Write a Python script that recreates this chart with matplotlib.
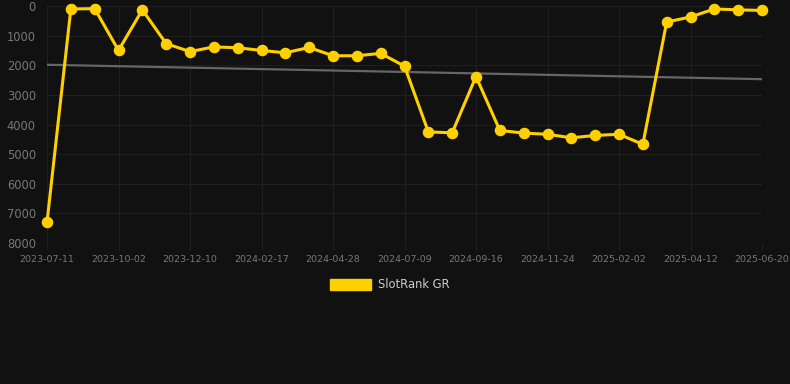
import matplotlib
matplotlib.use("Agg")
import matplotlib.pyplot as plt
import numpy as np
from matplotlib.patches import Patch

dates = ["2023-07-11", "2023-08-08", "2023-09-04", "2023-10-02", "2023-10-25", "2023-11-17",
         "2023-12-10", "2024-01-02", "2024-01-25", "2024-02-17", "2024-03-11", "2024-04-04",
         "2024-04-28", "2024-05-22", "2024-06-15", "2024-07-09", "2024-08-01", "2024-08-24",
         "2024-09-16", "2024-10-09", "2024-11-01", "2024-11-24", "2024-12-17", "2025-01-09",
         "2025-02-02", "2025-02-25", "2025-03-20", "2025-04-12", "2025-05-05", "2025-05-28",
         "2025-06-20"]
rank = [7300, 100, 90, 1500, 130, 1270, 1540, 1380, 1410, 1500, 1580, 1400, 1680, 1680, 1600,
        2030, 4250, 4280, 2380, 4200, 4290, 4330, 4450, 4370, 4330, 4670, 540, 370, 100, 130, 150]
series_name = "SlotRank GR"

bg = "#111111"
gold = "#FFD000"
fig = plt.figure(figsize=(7.9, 3.84), dpi=100, facecolor=bg)
ax = fig.add_axes([47/790, 1-243/384, (762-47)/790, (243-6)/384])
ax.set_facecolor(bg)

x = np.arange(len(rank))
coef = np.polyfit(x, rank, 1)
ax.plot(x, np.polyval(coef, x), color="#666666", lw=1.6, zorder=2)
ax.plot(x, rank, color=gold, lw=2.2, marker="o", ms=7.3, zorder=3, clip_on=False)

ax.set_ylim(8000, 0)
ax.set_xlim(0, len(rank)-1)
ax.set_yticks(range(0, 8001, 1000))
ax.set_yticklabels([str(v) for v in range(0, 8001, 1000)])
tick_idx = list(range(0, len(rank), 3))
ax.set_xticks(tick_idx)
ax.set_xticklabels([dates[i] for i in tick_idx])
ax.grid(True, color="#1f1f1f", lw=0.8)
for s in ax.spines.values():
    s.set_visible(False)
ax.tick_params(axis="y", length=0, pad=8, labelsize=8.3, colors="#777777")
ax.tick_params(axis="x", length=5, color="#1f1f1f", pad=4, labelsize=6.8, colors="#777777")

fig.legend(handles=[Patch(facecolor=gold, edgecolor=gold, label=series_name)],
           loc="center", bbox_to_anchor=(390/790, 1-285/384), frameon=False,
           labelcolor="#cccccc", fontsize=8.3, handlelength=3.6, handleheight=1.0,
           handletextpad=0.6)

fig.savefig("out.png", dpi=100, facecolor=bg)
